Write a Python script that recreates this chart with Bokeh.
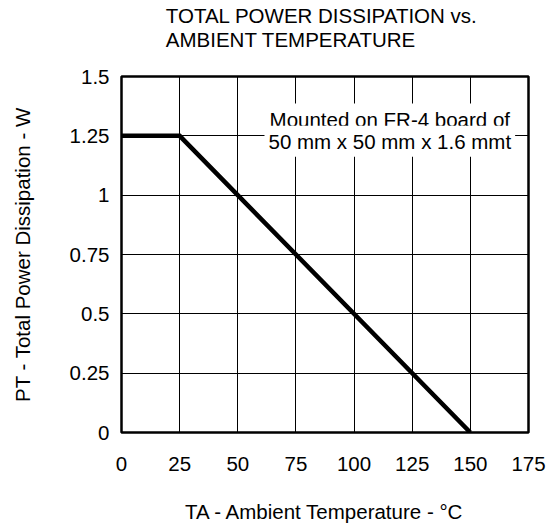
from bokeh.plotting import figure
from bokeh.models import Label, FixedTicker, Range1d, Title
from bokeh.embed import file_html
from bokeh.resources import INLINE

# ---- data ----
temps = [0, 25, 150]
power = [1.25, 1.25, 0]
x_ticks = [0, 25, 50, 75, 100, 125, 150, 175]
x_tick_labels = ["0", "25", "50", "75", "100", "125", "150", "175"]
y_ticks = [0, 0.25, 0.5, 0.75, 1, 1.25, 1.5]
y_tick_labels = ["0", "0.25", "0.5", "0.75", "1", "1.25", "1.5"]
title_lines = ["TOTAL POWER DISSIPATION vs.", "AMBIENT TEMPERATURE"]
note_lines = ["Mounted on FR-4 board of", "50 mm x 50 mm x 1.6 mmt"]
x_label = "TA - Ambient Temperature - \u00b0C"
y_label = "PT - Total Power Dissipation - W"

FONT = "Liberation Sans"
FS = "20.5px"

p = figure(width=548, height=525, output_backend="svg", toolbar_location=None,
           x_range=Range1d(0, 175), y_range=Range1d(0, 1.5),
           min_border_left=121, min_border_right=20,
           min_border_top=76, min_border_bottom=91)
p.title.visible = False
p.background_fill_color = "white"
p.border_fill_color = "white"
p.outline_line_color = "black"
p.outline_line_width = 2.5

for ax in (p.xaxis[0], p.yaxis[0]):
    ax.axis_line_color = None
    ax.major_tick_line_color = None
    ax.minor_tick_line_color = None
    ax.major_tick_out = 0
    ax.major_tick_in = 0
    ax.minor_tick_out = 0
    ax.major_label_text_font = FONT
    ax.major_label_text_font_size = FS
    ax.major_label_text_color = "black"
    ax.axis_label_text_font = FONT
    ax.axis_label_text_font_size = FS
    ax.axis_label_text_font_style = "normal"
    ax.axis_label_text_color = "black"

p.xaxis[0].ticker = FixedTicker(ticks=x_ticks)
p.yaxis[0].ticker = FixedTicker(ticks=y_ticks)
p.xaxis[0].major_label_overrides = {t: s for t, s in zip(x_ticks, x_tick_labels)}
p.yaxis[0].major_label_overrides = {t: s for t, s in zip(y_ticks, y_tick_labels)}
p.xaxis[0].major_label_standoff = 24
p.yaxis[0].major_label_standoff = 12
p.xaxis[0].axis_label = x_label
p.yaxis[0].axis_label = y_label
p.xaxis[0].axis_label_standoff = 26
p.yaxis[0].axis_label_standoff = 33

p.xgrid[0].ticker = FixedTicker(ticks=x_ticks)
p.ygrid[0].ticker = FixedTicker(ticks=y_ticks)
for g in (p.xgrid[0], p.ygrid[0]):
    g.grid_line_color = "black"
    g.grid_line_width = 1
    g.grid_line_alpha = 1

p.line(temps, power, line_color="black", line_width=4.5, line_join="miter")

# two-line title, left aligned; a trailing empty line keeps the gap to the frame
p.add_layout(Title(text="\n".join(title_lines) + "\n", align="left", offset=44.3,
                   standoff=4, text_line_height=1.03,
                   text_font=FONT, text_font_size=FS, text_font_style="normal",
                   text_color="black"), "above")

# note with white background (inside the frame)
for i, line in enumerate(note_lines):
    p.add_layout(Label(x=0, y=1.5, x_offset=268.3, y_offset=-42.5 - 22.3 * i,
                       text=line, text_font=FONT, text_font_size=FS,
                       text_color="black", text_align="center",
                       text_baseline="alphabetic",
                       background_fill_color="white", padding=4))

open("out.html", "w").write(file_html(p, INLINE))
